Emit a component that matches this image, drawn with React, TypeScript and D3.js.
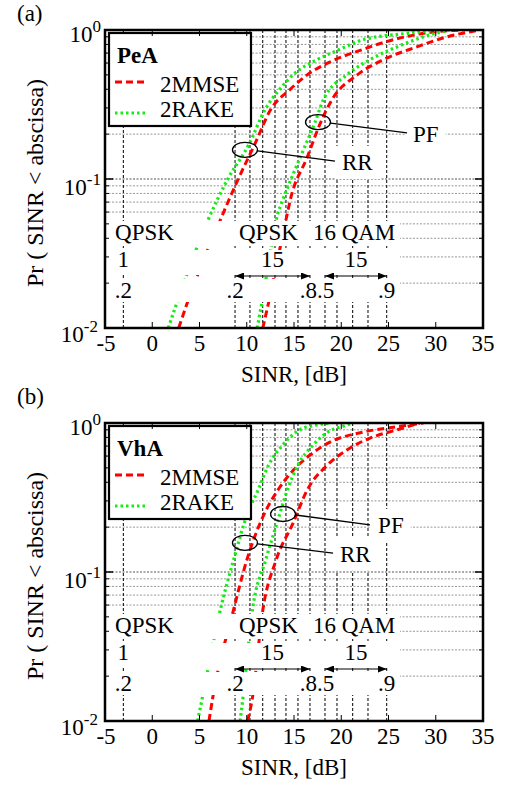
import React, { useEffect, useRef } from "react";
import * as d3 from "d3";

const FONT = "'Liberation Serif', 'Times New Roman', serif";

// [SINR dB, Pr(SINR < abscissa)]
const peaRrMmse: [number, number][] = [[2.8, 0.01], [3.7, 0.0147], [7.2, 0.053], [9.1, 0.1], [10.9, 0.174], [12.5, 0.29], [14.6, 0.4], [16.4, 0.5], [18.8, 0.61], [22.0, 0.73], [25.5, 0.86], [28.7, 0.95], [32.9, 1.0]];
const peaRrRake: [number, number][] = [[1.7, 0.01], [2.6, 0.0147], [5.9, 0.053], [8.0, 0.1], [10.3, 0.174], [11.9, 0.29], [13.5, 0.4], [14.9, 0.5], [17.4, 0.63], [19.6, 0.73], [22.3, 0.86], [27.0, 0.95], [30.1, 1.0]];
const peaPfMmse: [number, number][] = [[11.7, 0.01], [12.3, 0.0147], [14.3, 0.059], [14.6, 0.072], [16.4, 0.14], [17.8, 0.238], [19.0, 0.339], [21.7, 0.5], [24.4, 0.63], [28.0, 0.77], [31.2, 0.9], [34.7, 1.0]];
const peaPfRake: [number, number][] = [[11.1, 0.01], [11.6, 0.0147], [13.3, 0.059], [13.8, 0.072], [16.0, 0.157], [17.2, 0.238], [18.1, 0.339], [20.6, 0.5], [23.0, 0.63], [25.9, 0.77], [28.7, 0.9], [31.5, 1.0]];

const vhaRrMmse: [number, number][] = [[6.0, 0.01], [6.4, 0.0143], [8.6, 0.0556], [10.0, 0.12], [11.7, 0.234], [13.3, 0.355], [14.9, 0.48], [16.7, 0.61], [19.1, 0.76], [22.0, 0.86], [26.2, 0.95], [28.7, 1.0]];
const vhaRrRake: [number, number][] = [[4.8, 0.01], [5.3, 0.0143], [7.2, 0.0556], [8.6, 0.12], [10.1, 0.249], [11.2, 0.355], [12.3, 0.52], [13.8, 0.71], [15.6, 0.9], [17.4, 0.97], [18.8, 1.0]];
const vhaPfMmse: [number, number][] = [[10.1, 0.01], [10.6, 0.0143], [11.7, 0.0556], [13.1, 0.12], [14.9, 0.213], [16.4, 0.355], [18.5, 0.52], [20.6, 0.66], [23.0, 0.79], [25.9, 0.9], [28.3, 1.0]];
const vhaPfRake: [number, number][] = [[9.3, 0.01], [9.6, 0.0143], [10.6, 0.0556], [12.0, 0.12], [13.2, 0.213], [14.3, 0.355], [15.4, 0.52], [17.0, 0.71], [18.6, 0.87], [20.6, 0.97], [21.2, 1.0]];

const xTicks = [-5, 0, 5, 10, 15, 20, 25, 30, 35];
const yMajor = [1, 0.1, 0.01];
const yExp = ["0", "-1", "-2"];
const yGrid = [0.02, 0.03, 0.04, 0.05, 0.06, 0.07, 0.08, 0.09, 0.1, 0.2, 0.3, 0.4, 0.5, 0.6, 0.7, 0.8, 0.9];

// MCS switching thresholds [dB]
const thresholds = [-3.06, 8.76, 10.34, 11.69, 12.99, 14.15, 15.42, 16.69, 18.28, 19.55, 21.21, 22.83, 24.81];
const modLabels = ["QPSK", "QPSK", "16 QAM"];
const modLabelX = [-3.94, 9.18, 17.0];
const codeLabels = ["1", "15", "15"];
const codeLabelX = [-3.06, 12.72, 21.55];
const rateLabels = [".2", ".2", ".8", ".5", ".9"];
const rateLabelX = [-3.06, 8.76, 16.69, 18.28, 24.81];
const rateAnchor = ["middle", "middle", "end", "start", "middle"];
const arrowSpans: [number, number][] = [[8.76, 16.69], [18.28, 24.81]];

const legendNames = ["2MMSE", "2RAKE"];

const panels = [
  {
    tag: "(a)", tagY: 21, title: "PeA", top: 30,
    series: [
      { data: peaRrMmse, kind: 0 }, { data: peaRrRake, kind: 1 },
      { data: peaPfMmse, kind: 0 }, { data: peaPfRake, kind: 1 },
    ],
    rr: { c: [9.81, 0.157], end: [19.34, 0.132], txt: [20.08, 0.115] },
    pf: { c: [17.54, 0.241], end: [26.96, 0.204], txt: [27.6, 0.177] },
  },
  {
    tag: "(b)", tagY: 404, title: "VhA", top: 423,
    series: [
      { data: vhaRrMmse, kind: 0 }, { data: vhaRrRake, kind: 1 },
      { data: vhaPfMmse, kind: 0 }, { data: vhaPfRake, kind: 1 },
    ],
    rr: { c: [9.81, 0.157], end: [19.13, 0.134], txt: [19.87, 0.117] },
    pf: { c: [13.84, 0.245], end: [23.04, 0.207], txt: [23.9, 0.183] },
  },
];

const RED = "#ff0000";
const GREEN = "#11ee11";
const LEFT = 105;
const RIGHT = 483;
const PH = 298;

function styleLine(sel: any, kind: number) {
  if (kind === 0) {
    sel.attr("stroke", RED).attr("stroke-width", 3).attr("stroke-dasharray", "7,4");
  } else {
    sel.attr("stroke", GREEN).attr("stroke-width", 3.2).attr("stroke-dasharray", "2.5,3");
  }
}

function drawPanel(svg: any, p: any, idx: number) {
  const top = p.top;
  const bottom = top + PH;
  const x = d3.scaleLinear().domain([-5, 35]).range([LEFT, RIGHT]);
  const y = d3.scaleLog().domain([0.01, 1]).range([bottom, top]);
  const g = svg.append("g").style("font-family", FONT);

  const clipId = `plot-clip-${idx}`;
  svg.select("defs").append("clipPath").attr("id", clipId)
    .append("rect").attr("x", LEFT).attr("y", top).attr("width", RIGHT - LEFT).attr("height", PH);

  /* grid */
  g.selectAll(".hg").data(yGrid).enter().append("line")
    .attr("x1", LEFT).attr("x2", RIGHT)
    .attr("y1", (d: number) => y(d)).attr("y2", (d: number) => y(d))
    .attr("stroke", (d: number) => (d === 0.1 ? "#555" : "#999"))
    .attr("stroke-width", 1).attr("stroke-dasharray", "2,1.5");

  g.selectAll(".vg").data(thresholds).enter().append("line")
    .attr("x1", (d: number) => x(d)).attr("x2", (d: number) => x(d))
    .attr("y1", top).attr("y2", bottom)
    .attr("stroke", "#000").attr("stroke-width", 1).attr("stroke-dasharray", "3,2");

  /* curves */
  const line = d3.line<[number, number]>()
    .x((d) => x(d[0])).y((d) => y(d[1]))
    .curve(d3.curveMonotoneX);
  const cg = g.append("g").attr("clip-path", `url(#${clipId})`);
  p.series.forEach((s: any) => {
    cg.append("path").datum(s.data).attr("fill", "none").attr("d", line).call(styleLine, s.kind);
  });

  /* MCS label block with white rows */
  const rows = [[191, 216], [220, 245], [249, 272]];
  rows.forEach((r) => {
    g.append("rect").attr("x", LEFT + 1).attr("y", top + r[0]).attr("width", 400 - LEFT - 1)
      .attr("height", r[1] - r[0]).attr("fill", "#fff");
  });
  modLabels.forEach((t, i) => {
    g.append("text").attr("x", x(modLabelX[i])).attr("y", top + 210).attr("font-size", 23).text(t);
  });
  codeLabels.forEach((t, i) => {
    g.append("text").attr("x", x(codeLabelX[i])).attr("y", top + 237)
      .attr("text-anchor", "middle").attr("font-size", 23).text(t);
  });
  rateLabels.forEach((t, i) => {
    const dx = rateAnchor[i] === "end" ? 7 : rateAnchor[i] === "start" ? -8 : 0;
    g.append("text").attr("x", x(rateLabelX[i]) + dx).attr("y", top + 268)
      .attr("text-anchor", rateAnchor[i]).attr("font-size", 23).text(t);
  });
  arrowSpans.forEach((s) => {
    g.append("line").attr("x1", x(s[0])).attr("x2", x(s[1]))
      .attr("y1", top + 246).attr("y2", top + 246)
      .attr("stroke", "#000").attr("stroke-width", 1.2)
      .attr("marker-start", "url(#arrowhead)").attr("marker-end", "url(#arrowhead)");
  });

  /* RR / PF annotations */
  [["RR", p.rr], ["PF", p.pf]].forEach(([name, a]: any) => {
    const t = g.append("text").attr("x", x(a.txt[0])).attr("y", y(a.txt[1]))
      .attr("font-size", 23).text(name);
    const bb = (t.node() as SVGTextElement).getBBox();
    g.insert("rect", () => t.node())
      .attr("x", bb.x - 7).attr("y", bb.y - 4).attr("width", bb.width + 14).attr("height", bb.height + 8)
      .attr("fill", "#fff");
    const cx = x(a.c[0]);
    const cy = y(a.c[1]);
    g.append("ellipse").attr("cx", cx).attr("cy", cy).attr("rx", 12.5).attr("ry", 7.5)
      .attr("fill", "none").attr("stroke", "#000").attr("stroke-width", 1.3);
    g.append("line").attr("x1", cx + 12.5).attr("y1", cy + 1)
      .attr("x2", x(a.end[0])).attr("y2", y(a.end[1]))
      .attr("stroke", "#000").attr("stroke-width", 1.3);
  });

  /* legend */
  g.append("rect").attr("x", 109).attr("y", top + 3).attr("width", 142).attr("height", 93)
    .attr("fill", "#fff").attr("stroke", "#000").attr("stroke-width", 2.2);
  g.append("text").attr("x", 117).attr("y", top + 33).attr("font-size", 23)
    .attr("font-weight", "bold").text(p.title);
  legendNames.forEach((n, i) => {
    const ly = top + (i === 0 ? 52 : 83);
    g.append("line").attr("x1", 115).attr("x2", 146).attr("y1", ly).attr("y2", ly).call(styleLine, i);
    g.append("text").attr("x", 160).attr("y", top + (i === 0 ? 62 : 87)).attr("font-size", 23).text(n);
  });

  /* frame and ticks */
  xTicks.forEach((t) => {
    g.append("line").attr("x1", x(t)).attr("x2", x(t)).attr("y1", bottom).attr("y2", bottom - 6).attr("stroke", "#000");
    g.append("line").attr("x1", x(t)).attr("x2", x(t)).attr("y1", top).attr("y2", top + 6).attr("stroke", "#000");
    g.append("text").attr("x", x(t) + (t < 0 ? 1 : 0)).attr("y", bottom + 23).attr("text-anchor", "middle")
      .attr("font-size", 23).text(t < 0 ? `-${Math.abs(t)}` : `${t}`);
  });
  yGrid.concat(yMajor).forEach((v) => {
    const len = yMajor.includes(v) ? 8 : 4;
    g.append("line").attr("x1", LEFT).attr("x2", LEFT + len).attr("y1", y(v)).attr("y2", y(v)).attr("stroke", "#000");
    g.append("line").attr("x1", RIGHT).attr("x2", RIGHT - len).attr("y1", y(v)).attr("y2", y(v)).attr("stroke", "#000");
  });
  yMajor.forEach((v, i) => {
    const t = g.append("text").attr("x", i === 2 ? 98 : 101).attr("y", y(v) + (i === 0 ? 12 : i === 1 ? 16 : 14))
      .attr("text-anchor", "end").attr("font-size", 23);
    t.append("tspan").text("10");
    t.append("tspan").attr("dy", -10).attr("font-size", 17).text(yExp[i]);
  });
  g.append("rect").attr("x", LEFT).attr("y", top).attr("width", RIGHT - LEFT).attr("height", PH)
    .attr("fill", "none").attr("stroke", "#000").attr("stroke-width", 2.5);

  g.append("text").attr("x", (LEFT + RIGHT) / 2).attr("y", bottom + 54).attr("text-anchor", "middle")
    .attr("font-size", 23).text("SINR, [dB]");
  g.append("text").attr("transform", `translate(43,${(top + bottom) / 2 + 4}) rotate(-90)`)
    .attr("text-anchor", "middle").attr("font-size", 24).text("Pr ( SINR < abscissa)");
  g.append("text").attr("x", 17).attr("y", p.tagY).attr("font-size", 23).text(p.tag);
}

function App() {
  const svgRef = useRef<SVGSVGElement>(null);

  useEffect(() => {
    const svg = d3.select(svgRef.current);
    svg.selectAll("*").remove();
    const defs = svg.append("defs");
    defs.append("marker").attr("id", "arrowhead").attr("markerUnits", "userSpaceOnUse")
      .attr("markerWidth", 9).attr("markerHeight", 7).attr("refX", 9).attr("refY", 3.5)
      .attr("orient", "auto-start-reverse")
      .append("path").attr("d", "M0,0 L9,3.5 L0,7 Z").attr("fill", "#000");
    panels.forEach((p, i) => drawPanel(svg, p, i));
  }, []);

  return (
    <div style={{ position: "absolute", left: 0, top: 0, background: "#fff" }}>
      <svg ref={svgRef} width={515} height={787} style={{ display: "block" }} />
    </div>
  );
}

export default App;
